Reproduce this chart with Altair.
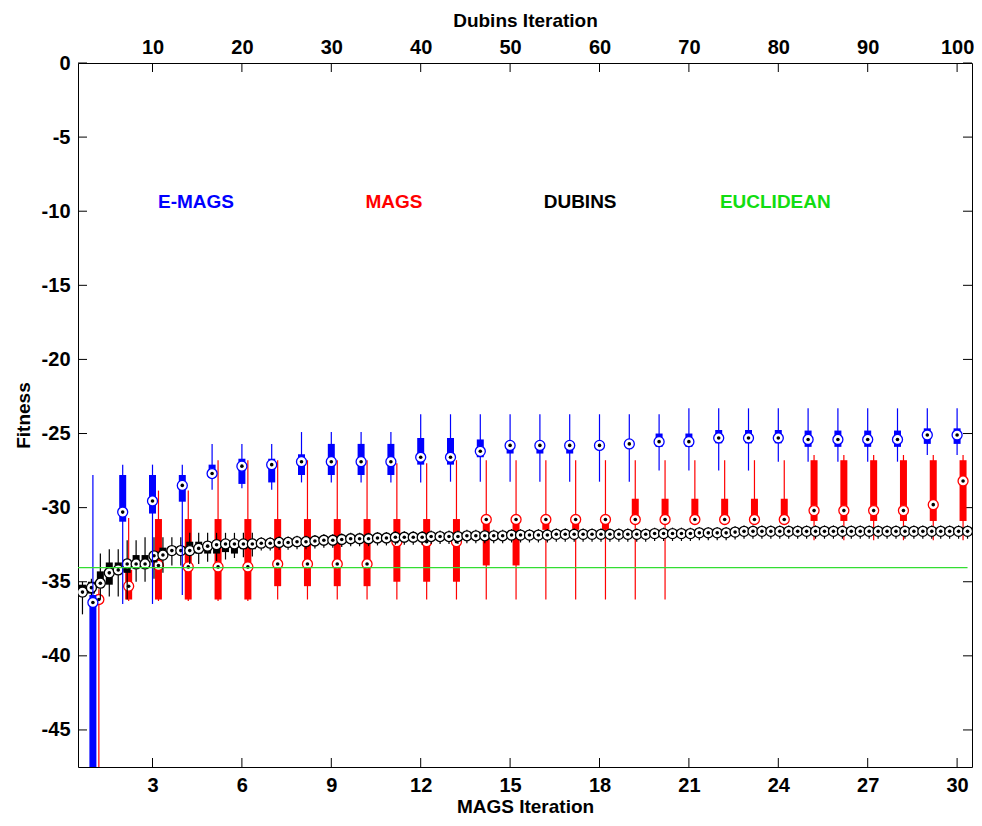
import altair as alt
import pandas as pd

# ---------------- data ----------------
mags_iter = list(range(1, 31))

# E-MAGS (blue): whisker low, q1, median, q3, whisker high
emags_lo = [-60, -36.5, -36.5, -35.9, -28.8, -28.7, -28.8, -28.3, -28.3, -28.3,
            -28.3, -28.3, -28.25, -28.25, -28.25, -28.25, -28.25, -28.25, -28.25, -27.5,
            -27.5, -27.5, -27.5, -26.9, -26.9, -26.9, -26.9, -26.9, -26.45, -26.45]
emags_q1 = [-55, -30.95, -30.4, -29.6, -28.0, -28.4, -28.3, -27.8, -27.8, -27.8,
            -27.8, -27.1, -27.1, -26.6, -26.35, -26.35, -26.35, -26.1, -25.8, -25.9,
            -25.9, -25.66, -25.66, -25.66, -25.9, -25.9, -25.9, -25.9, -25.7, -25.7]
emags_med = [-36.4, -30.3, -29.55, -28.5, -27.7, -27.2, -27.1, -26.9, -26.9, -26.9,
             -26.9, -26.6, -26.6, -26.2, -25.8, -25.8, -25.8, -25.8, -25.7, -25.55,
             -25.55, -25.3, -25.3, -25.3, -25.4, -25.4, -25.4, -25.4, -25.1, -25.1]
emags_q3 = [-35.9, -27.8, -27.8, -27.8, -27.1, -26.7, -26.7, -26.4, -25.7, -25.7,
            -25.7, -25.3, -25.3, -25.4, -25.55, -25.55, -25.55, -25.55, -25.6, -25.0,
            -25.0, -24.76, -24.76, -24.76, -24.8, -24.8, -24.8, -24.8, -24.65, -24.65]
emags_hi = [-27.8, -27.1, -27.1, -27.1, -25.7, -25.7, -25.7, -24.9, -24.9, -24.9,
            -24.9, -23.7, -23.7, -23.7, -23.7, -23.7, -23.7, -23.7, -23.7, -23.7,
            -23.3, -23.3, -23.3, -23.3, -23.3, -23.3, -23.3, -23.3, -23.3, -23.3]

# MAGS (red)
mags_lo = [-60, -36.3, -36.3, -36.3, -36.3, -36.3, -36.2, -36.2, -36.2, -36.2,
           -36.2, -36.2, -36.2, -36.2, -36.2, -36.2, -36.2, -36.2, -36.2, -36.2,
           -30.95, -30.95, -30.95, -30.95, -32.2, -32.2, -32.2, -32.2, -32.2, -32.2]
mags_q1 = [-36.5, -36.2, -36.2, -36.2, -36.2, -36.2, -35.3, -35.3, -35.3, -35.3,
           -35.0, -35.0, -35.0, -33.9, -33.9, -31.5, -31.5, -31.5, -30.85, -30.85,
           -30.85, -30.85, -30.85, -30.85, -30.9, -30.9, -30.9, -30.9, -30.9, -30.9]
mags_med = [-36.2, -35.3, -33.9, -34.0, -34.0, -34.0, -33.8, -33.8, -33.8, -33.8,
            -32.3, -32.3, -32.3, -30.8, -30.8, -30.8, -30.8, -30.8, -30.8, -30.8,
            -30.8, -30.8, -30.8, -30.8, -30.2, -30.2, -30.2, -30.2, -29.8, -28.2]
mags_q3 = [-35.9, -34.2, -30.77, -30.77, -30.77, -30.77, -30.77, -30.77, -30.77, -30.77,
           -30.77, -30.77, -30.77, -30.75, -30.75, -30.75, -30.75, -30.75, -29.4, -29.4,
           -29.4, -29.4, -29.4, -29.4, -26.8, -26.8, -26.8, -26.8, -26.8, -26.8]
mags_hi = [-35.5, -30.7, -28.85, -28.85, -26.8, -26.8, -26.8, -26.8, -26.8, -26.8,
           -27.0, -27.0, -26.8, -26.8, -26.8, -26.8, -26.8, -26.8, -26.8, -26.8,
           -26.8, -26.8, -26.8, -26.8, -26.45, -26.45, -26.45, -26.45, -26.45, -26.45]

# DUBINS (black), 100 iterations
dub_iter = list(range(1, 101))
dub_med = [-35.7, -35.4, -35.1, -34.4, -34.2, -33.8, -33.8, -33.8, -33.25, -33.2,
           -32.9, -32.9, -32.9, -32.75, -32.6, -32.5, -32.45, -32.45, -32.45, -32.45,
           -32.4, -32.4, -32.35, -32.35, -32.3, -32.3, -32.25, -32.2, -32.2, -32.15,
           -32.1, -32.1, -32.1, -32.05, -32.05, -32.0, -32.0, -32.0, -32.0, -31.95,
           -31.95, -31.95, -31.95, -31.9, -31.9, -31.9, -31.9, -31.9, -31.85, -31.85,
           -31.85, -31.85, -31.85, -31.8, -31.8, -31.8, -31.8, -31.8, -31.8, -31.8,
           -31.8, -31.8, -31.8, -31.8, -31.75, -31.75, -31.75, -31.75, -31.75, -31.7,
           -31.7, -31.7, -31.7, -31.65, -31.6, -31.6, -31.6, -31.6, -31.6, -31.6,
           -31.6, -31.6, -31.6, -31.6, -31.6, -31.6, -31.6, -31.6, -31.6, -31.6,
           -31.6, -31.6, -31.6, -31.6, -31.6, -31.6, -31.6, -31.6, -31.6, -31.6]
dub_q3 = [-35.2, -35.0, -34.3, -33.7, -33.7, -33.5, -33.2, -33.2, -33.0, -32.7,
          -32.6, -32.6, -32.3, -32.3, -32.3, -32.2, -32.2, -32.2, -32.2, -32.2,
          -32.25, -32.25, -32.2, -32.2, -32.15, -32.15, -32.1, -32.05, -32.05, -32.0,
          -31.95, -31.95, -31.95, -31.9, -31.9, -31.85, -31.85, -31.85, -31.85, -31.8,
          -31.8, -31.8, -31.8, -31.75, -31.75, -31.75, -31.75, -31.75, -31.7, -31.7,
          -31.7, -31.7, -31.7, -31.65, -31.65, -31.65, -31.65, -31.65, -31.65, -31.65,
          -31.65, -31.65, -31.65, -31.65, -31.6, -31.6, -31.6, -31.6, -31.6, -31.55,
          -31.55, -31.55, -31.55, -31.5, -31.45, -31.45, -31.45, -31.45, -31.45, -31.45,
          -31.45, -31.45, -31.45, -31.45, -31.45, -31.45, -31.45, -31.45, -31.45, -31.45,
          -31.45, -31.45, -31.45, -31.45, -31.45, -31.45, -31.45, -31.45, -31.45, -31.45]
dub_q1 = [-36.0, -35.8, -35.4, -35.2, -34.4, -34.4, -34.1, -34.1, -33.7, -33.4,
          -33.2, -33.2, -33.2, -33.1, -33.1, -33.1, -33.0, -33.1, -32.8, -32.8,
          -32.55, -32.55, -32.5, -32.5, -32.45, -32.45, -32.4, -32.35, -32.35, -32.3,
          -32.25, -32.25, -32.25, -32.2, -32.2, -32.15, -32.15, -32.15, -32.15, -32.1,
          -32.1, -32.1, -32.1, -32.05, -32.05, -32.05, -32.05, -32.05, -32.0, -32.0,
          -32.0, -32.0, -32.0, -31.95, -31.95, -31.95, -31.95, -31.95, -31.95, -31.95,
          -31.95, -31.95, -31.95, -31.95, -31.9, -31.9, -31.9, -31.9, -31.9, -31.85,
          -31.85, -31.85, -31.85, -31.8, -31.75, -31.75, -31.75, -31.75, -31.75, -31.75,
          -31.75, -31.75, -31.75, -31.75, -31.75, -31.75, -31.75, -31.75, -31.75, -31.75,
          -31.75, -31.75, -31.75, -31.75, -31.75, -31.75, -31.75, -31.75, -31.75, -31.75]
dub_hi = [-35.0, -34.8, -33.1, -32.8, -32.8, -32.2, -32.2, -32.0, -32.0, -32.0,
          -32.0, -32.0, -31.7, -31.7, -31.7, -31.7, -31.7, -31.7, -31.7, -31.7,
          -32.0, -32.0, -31.95, -31.95, -31.9, -31.9, -31.85, -31.8, -31.8, -31.75,
          -31.7, -31.7, -31.7, -31.65, -31.65, -31.6, -31.6, -31.6, -31.6, -31.55,
          -31.55, -31.55, -31.55, -31.5, -31.5, -31.5, -31.5, -31.5, -31.45, -31.45,
          -31.45, -31.45, -31.45, -31.4, -31.4, -31.4, -31.4, -31.4, -31.4, -31.4,
          -31.4, -31.4, -31.4, -31.4, -31.35, -31.35, -31.35, -31.35, -31.35, -31.3,
          -31.3, -31.3, -31.3, -31.25, -31.2, -31.2, -31.2, -31.2, -31.2, -31.2,
          -31.2, -31.2, -31.2, -31.2, -31.2, -31.2, -31.2, -31.2, -31.2, -31.2,
          -31.2, -31.2, -31.2, -31.2, -31.2, -31.2, -31.2, -31.2, -31.2, -31.2]
dub_lo = [-37.2, -36.4, -36.2, -36.0, -36.0, -36.2, -35.0, -35.0, -34.8, -34.4,
          -33.9, -33.9, -33.8, -33.8, -33.65, -33.6, -33.5, -33.4, -33.35, -33.3,
          -32.9, -32.9, -32.85, -32.85, -32.8, -32.8, -32.75, -32.7, -32.7, -32.65,
          -32.6, -32.6, -32.6, -32.55, -32.55, -32.5, -32.5, -32.5, -32.5, -32.45,
          -32.45, -32.45, -32.45, -32.4, -32.4, -32.4, -32.4, -32.4, -32.35, -32.35,
          -32.35, -32.35, -32.35, -32.3, -32.3, -32.3, -32.3, -32.3, -32.3, -32.3,
          -32.3, -32.3, -32.3, -32.3, -32.25, -32.25, -32.25, -32.25, -32.25, -32.2,
          -32.2, -32.2, -32.2, -32.15, -32.1, -32.1, -32.1, -32.1, -32.1, -32.1,
          -32.1, -32.1, -32.1, -32.1, -32.1, -32.1, -32.1, -32.1, -32.1, -32.1,
          -32.1, -32.1, -32.1, -32.1, -32.1, -32.1, -32.1, -32.1, -32.1, -32.1]

euclidean_value = -34.05
euclid_from = 0
euclid_to = 100

label_names = ["E-MAGS", "MAGS", "DUBINS", "EUCLIDEAN"]
label_colors = ["#0000ff", "#ff0000", "#000000", "#11dd11"]
label_x = [4.46, 11.1, 17.35, 23.9]
label_y = [-9.4, -9.4, -9.4, -9.4]

y_ticks = [0, -5, -10, -15, -20, -25, -30, -35, -40, -45]
bottom_ticks = [3, 6, 9, 12, 15, 18, 21, 24, 27, 30]
top_ticks = [10, 20, 30, 40, 50, 60, 70, 80, 90, 100]

# ---------------- layout / style ----------------
W, H = 894, 704
TICK = 9
FONT = "Liberation Sans, Arial, sans-serif"
LAB = 20
red_shift = 0.2

mags_scale = alt.Scale(domain=[0.5, 30.5], nice=False, zero=False)
dub_scale = alt.Scale(domain=[0.5, 100.5], nice=False, zero=False)
# the top "Dubins Iteration" axis is aligned with the bottom one (10 over 3, 100 over 30)
top_scale = alt.Scale(domain=[5 / 3, 305 / 3], nice=False, zero=False)
y_scale = alt.Scale(domain=[-47.5, 0], nice=False, zero=False)

df_e = pd.DataFrame({"x": mags_iter, "lo": emags_lo, "q1": emags_q1, "med": emags_med,
                     "q3": emags_q3, "hi": emags_hi})
df_m = pd.DataFrame({"x": [i + red_shift for i in mags_iter], "lo": mags_lo, "q1": mags_q1,
                     "med": mags_med, "q3": mags_q3, "hi": mags_hi})
df_d = pd.DataFrame({"x": dub_iter, "lo": dub_lo, "q1": dub_q1, "med": dub_med,
                     "q3": dub_q3, "hi": dub_hi})


def box_layers(df, scale, color):
    base = alt.Chart(df)
    xenc = alt.X("x:Q", scale=scale, axis=None)
    whisk = base.mark_rule(color=color, strokeWidth=1.2, clip=True).encode(
        x=xenc, y=alt.Y("lo:Q", scale=y_scale, axis=None), y2="hi:Q")
    box = base.mark_rule(color=color, strokeWidth=7, strokeCap="butt", clip=True).encode(
        x=xenc, y=alt.Y("q1:Q", scale=y_scale, axis=None), y2="q3:Q")
    circ = base.mark_point(shape="circle", filled=True, fill="white", stroke=color,
                           strokeWidth=1.3, size=100, opacity=1, clip=True).encode(
        x=xenc, y=alt.Y("med:Q", scale=y_scale, axis=None))
    dot = base.mark_point(shape="circle", filled=True, color="black", size=13,
                          opacity=1, clip=True).encode(
        x=xenc, y=alt.Y("med:Q", scale=y_scale, axis=None))
    return [whisk, box, circ, dot]


red_layers = box_layers(df_m, mags_scale, "#ff0000")
black_layers = box_layers(df_d, dub_scale, "#000000")
blue_layers = box_layers(df_e, mags_scale, "#0000ff")

euclid = alt.Chart(pd.DataFrame({"a": [euclid_from], "b": [euclid_to], "v": [euclidean_value]})).mark_rule(
    color="#33dd33", strokeWidth=1.2, clip=True).encode(
    x=alt.X("a:Q", scale=dub_scale, axis=None), x2="b:Q",
    y=alt.Y("v:Q", scale=y_scale, axis=None))

labels = alt.Chart(pd.DataFrame({"name": label_names, "c": label_colors, "x": label_x, "y": label_y})).mark_text(
    font=FONT, fontSize=19, fontWeight="bold").encode(
    x=alt.X("x:Q", scale=mags_scale, axis=None),
    y=alt.Y("y:Q", scale=y_scale, axis=None),
    text="name:N", color=alt.Color("c:N", scale=None))

axis_common = dict(ticks=False, tickSize=0, domain=False, grid=False, labelFont=FONT,
                   labelFontSize=LAB, labelFontWeight="bold", labelColor="black",
                   titleFont=FONT, titleFontSize=19, titleFontWeight="bold", titleColor="black")

bottom_tk = alt.Chart(pd.DataFrame({"t": bottom_ticks})).mark_rule(color="black").encode(
    x=alt.X("t:Q", scale=mags_scale,
            axis=alt.Axis(orient="bottom", values=bottom_ticks, format="d", title="MAGS Iteration",
                          labelPadding=8, titlePadding=2, **axis_common)),
    y=alt.value(H), y2=alt.value(H - TICK))

top_tk = alt.Chart(pd.DataFrame({"t": top_ticks})).mark_rule(color="black").encode(
    x=alt.X("t:Q", scale=top_scale,
            axis=alt.Axis(orient="top", values=top_ticks, format="d", title="Dubins Iteration",
                          labelPadding=6, titlePadding=7, **axis_common)),
    y=alt.value(0), y2=alt.value(TICK))

left_tk = alt.Chart(pd.DataFrame({"t": y_ticks})).mark_rule(color="black").encode(
    y=alt.Y("t:Q", scale=y_scale,
            axis=alt.Axis(orient="left", values=y_ticks, title="Fitness", labelPadding=8,
                          titlePadding=8,
                          labelExpr="datum.value == 0 ? '0' : '-' + abs(datum.value)",
                          **axis_common)),
    x=alt.value(0), x2=alt.value(TICK))

right_tk = alt.Chart(pd.DataFrame({"t": y_ticks})).mark_rule(color="black").encode(
    y=alt.Y("t:Q", scale=y_scale, axis=None),
    x=alt.value(W), x2=alt.value(W - TICK))

chart = alt.layer(
    left_tk, right_tk, bottom_tk, top_tk,
    *red_layers, *black_layers, *blue_layers, euclid, labels
).resolve_scale(x="independent").resolve_axis(y="independent").properties(
    width=W, height=H,
    autosize=alt.AutoSizeParams(type="none"),
    padding={"left": 70, "top": 55, "right": 2, "bottom": 51},
    background="white",
).configure_view(stroke="black", strokeWidth=1)

chart.save("out.html", embed_options={"renderer": "svg", "actions": False})
